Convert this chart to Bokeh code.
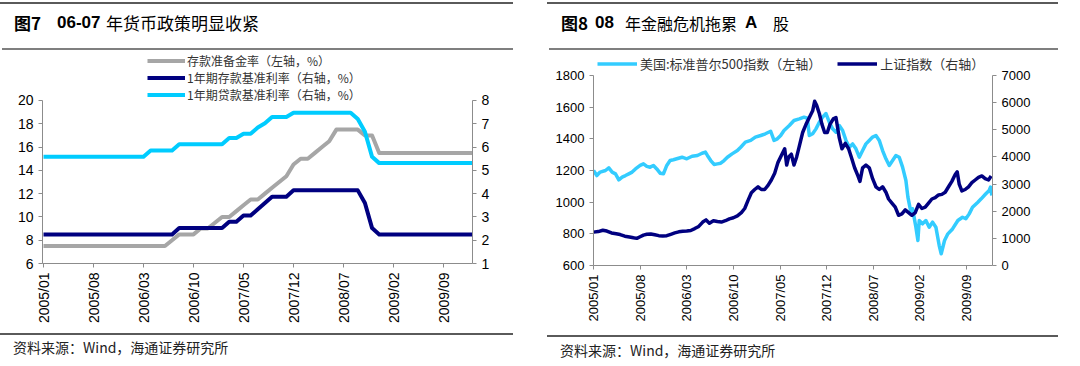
import numpy as np
from bokeh.plotting import figure
from bokeh.layouts import row, column
from bokeh.models import Range1d, LinearAxis, FixedTicker, Legend, LegendItem, Div
from bokeh.embed import file_html
from bokeh.resources import INLINE

# ---------------- shared x-axis ticks (months since 2005/01) ----------------
tick_pos = [0, 7, 14, 21, 28, 35, 42, 49, 56]
tick_labels = ["2005/01", "2005/08", "2006/03", "2006/10", "2007/05",
               "2007/12", "2008/07", "2009/02", "2009/09"]

# ---------------- Figure 7 data: monthly, 2005/01 .. 2010/01 ----------------
months7 = list(range(61))
rrr = [7.5, 7.5, 7.5, 7.5, 7.5, 7.5, 7.5, 7.5, 7.5, 7.5, 7.5, 7.5,
       7.5, 7.5, 7.5, 7.5, 7.5, 7.5, 8.0, 8.5, 8.5, 8.5, 9.0, 9.0,
       9.5, 10.0, 10.0, 10.5, 11.0, 11.5, 11.5, 12.0, 12.5, 13.0, 13.5, 14.5,
       15.0, 15.0, 15.5, 16.0, 16.5, 17.5, 17.5, 17.5, 17.5, 17.0, 17.0, 15.5,
       15.5, 15.5, 15.5, 15.5, 15.5, 15.5, 15.5, 15.5, 15.5, 15.5, 15.5, 15.5,
       15.5]
deposit = [2.25, 2.25, 2.25, 2.25, 2.25, 2.25, 2.25, 2.25, 2.25, 2.25, 2.25, 2.25,
           2.25, 2.25, 2.25, 2.25, 2.25, 2.25, 2.25, 2.52, 2.52, 2.52, 2.52, 2.52,
           2.52, 2.52, 2.79, 2.79, 3.06, 3.06, 3.33, 3.60, 3.87, 3.87, 3.87, 4.14,
           4.14, 4.14, 4.14, 4.14, 4.14, 4.14, 4.14, 4.14, 4.14, 3.60, 2.52, 2.25,
           2.25, 2.25, 2.25, 2.25, 2.25, 2.25, 2.25, 2.25, 2.25, 2.25, 2.25, 2.25,
           2.25]
loan = [5.58, 5.58, 5.58, 5.58, 5.58, 5.58, 5.58, 5.58, 5.58, 5.58, 5.58, 5.58,
        5.58, 5.58, 5.58, 5.85, 5.85, 5.85, 5.85, 6.12, 6.12, 6.12, 6.12, 6.12,
        6.12, 6.12, 6.39, 6.39, 6.57, 6.57, 6.84, 7.02, 7.29, 7.29, 7.29, 7.47,
        7.47, 7.47, 7.47, 7.47, 7.47, 7.47, 7.47, 7.47, 7.20, 6.66, 5.58, 5.31,
        5.31, 5.31, 5.31, 5.31, 5.31, 5.31, 5.31, 5.31, 5.31, 5.31, 5.31, 5.31,
        5.31]
names7 = ["存款准备金率（左轴，%）", "1年期存款基准利率（右轴，%）", "1年期贷款基准利率（右轴，%）"]

# ---------------- Figure 8 data ----------------
sp_month = [0.0, 0.5, 1.0, 1.8, 2.3, 2.8, 3.3, 3.8, 4.3, 4.8, 5.3, 5.8, 6.3, 7.0, 7.5,
            8.0, 8.5, 9.0, 9.5, 10.0, 10.5, 11.0, 11.5, 12.0, 12.5, 13.3, 14.0, 14.8,
            15.6, 16.3, 16.8, 17.1, 17.6, 18.1, 18.6, 19.1, 19.6, 20.1, 20.8, 21.6,
            22.1, 22.8, 23.6, 24.3, 25.1, 25.8, 26.6, 27.1, 27.6, 28.1, 28.6, 29.4,
            30.1, 30.9, 31.6, 32.1, 32.4, 32.9, 33.4, 33.9, 34.4, 34.9, 35.4, 35.9,
            36.4, 36.9, 37.4, 37.9, 38.4, 38.9, 39.4, 39.9, 40.4, 40.9, 41.4, 41.9,
            42.4, 42.9, 43.4, 43.9, 44.4, 44.9, 45.4, 45.9, 46.4, 46.9, 47.2, 47.7,
            47.9, 48.4, 48.7, 48.9, 49.4, 49.9, 50.4, 50.9, 51.4, 51.9, 52.2, 52.7,
            53.2, 53.9, 54.7, 55.4, 55.9, 56.4, 56.9, 57.7, 58.2, 58.9, 59.4, 59.6,
            59.8]
sp_value = [1200, 1168, 1190, 1200, 1217, 1190, 1179, 1141, 1158, 1168, 1179, 1190, 1210, 1232, 1242,
            1226, 1221, 1232, 1210, 1183, 1179, 1232, 1263, 1268, 1274, 1284, 1274, 1290,
            1295, 1309, 1316, 1295, 1263, 1238, 1242, 1246, 1263, 1284, 1305, 1326,
            1347, 1379, 1390, 1411, 1421, 1432, 1448, 1390, 1400, 1421, 1453, 1484,
            1516, 1526, 1537, 1530, 1421, 1432, 1463, 1505, 1537, 1560, 1505, 1463,
            1442, 1484, 1453, 1390, 1347, 1368, 1337, 1284, 1326, 1368, 1390, 1411,
            1421, 1390, 1326, 1274, 1232, 1263, 1295, 1284, 1221, 1137, 1032, 926,
            958, 842, 758, 884, 863, 884, 842, 874, 842, 726, 674, 758,
            800, 831, 884, 905, 895, 926, 968, 1000, 1021, 1053, 1074, 1095,
            1042]
sh_month = [0.0, 0.7, 1.4, 2.0, 2.7, 3.4, 4.0, 4.7, 5.4, 6.0, 6.5, 7.0, 7.5, 8.0, 8.6,
            9.2, 9.8, 10.4, 11.0, 11.6, 12.2, 12.8, 13.4, 14.0, 14.6, 15.2, 15.8, 16.4,
            16.9, 17.4, 18.0, 18.6, 19.2, 19.8, 20.4, 21.0, 21.6, 22.2, 22.7, 23.2,
            23.7, 24.2, 24.7, 25.2, 25.7, 26.2, 26.7, 27.2, 27.7, 28.2, 28.7, 29.0,
            29.3, 29.7, 30.1, 30.5, 30.9, 31.4, 31.9, 32.4, 32.9, 33.2, 33.5, 33.9,
            34.3, 34.7, 35.1, 35.5, 36.0, 36.4, 36.9, 37.3, 37.8, 38.3, 38.7, 39.2,
            39.7, 40.0, 40.4, 40.9, 41.4, 41.9, 42.4, 42.9, 43.4, 43.9, 44.3, 44.8,
            45.3, 45.8, 46.3, 46.8, 47.3, 47.8, 48.3, 48.8, 49.3, 49.8, 50.3, 50.8,
            51.3, 51.8, 52.3, 52.8, 53.3, 53.8, 54.3, 54.6, 54.9, 55.3, 55.8, 56.3,
            56.8, 57.3, 57.8, 58.3, 58.8, 59.3, 59.7]
sh_value = [1230, 1250, 1300, 1270, 1200, 1170, 1140, 1080, 1050, 1020, 1000, 1060, 1120, 1150, 1160,
            1130, 1100, 1090, 1100, 1150, 1200, 1240, 1260, 1270, 1290, 1360, 1440, 1600,
            1680, 1560, 1650, 1620, 1600, 1650, 1720, 1760, 1830, 1950, 2100, 2400,
            2680, 2800, 2900, 2800, 2800, 2950, 3150, 3400, 3800, 4050, 4300, 3700,
            4000, 4100, 3700, 4000, 4400, 4900, 5200, 5450, 5700, 6050, 5900, 5600,
            5200, 4900, 4900, 5200, 5400, 5450, 4700, 4300, 4500, 4300, 4000, 3600,
            3300, 3100, 3600, 3700, 3600, 3200, 2900, 2800, 2900, 2700, 2450, 2300,
            2150, 1850, 1900, 2050, 1950, 1850, 1950, 2250, 2100, 2150, 2300, 2450,
            2500, 2600, 2620, 2700, 2900, 3100, 3350, 3450, 3000, 2750, 2800, 2900,
            3050, 3150, 3250, 3300, 3200, 3150, 3300]
names8 = ["美国:标准普尔500指数（左轴）", "上证指数（右轴）"]

titles7 = ["图7", "06-07", "年货币政策明显收紧"]
titles8 = ["图8", "08", "年金融危机拖累", "A", "股"]
source_text = "资料来源：Wind，海通证券研究所"

CJK = "Noto Sans CJK SC"
LAT = "Liberation Sans"
NAVY = "#000080"
W = 540


def header(parts, xs, fams, weights, sizes, rule_x0, rule_x1):
    h = ['<div style="position:relative;width:%dpx;height:50px;">' % W]
    h.append('<div style="position:absolute;left:%dpx;top:2px;width:%dpx;height:0;'
             'border-top:2px solid #5a5a5a;"></div>' % (rule_x0, rule_x1 - rule_x0))
    h.append('<div style="position:absolute;left:%dpx;top:48px;width:%dpx;height:0;'
             'border-top:2px solid #7f7f7f;"></div>' % (rule_x0 + 2, rule_x1 - rule_x0 - 2))
    for s, x, fam, wt, sz in zip(parts, xs, fams, weights, sizes):
        h.append('<span style="position:absolute;left:%dpx;top:14px;line-height:18px;'
                 'font-family:\'%s\';font-size:%dpx;font-weight:%s;color:#000;'
                 'white-space:nowrap;">%s</span>' % (x, fam, sz, wt, s))
    h.append('</div>')
    return Div(text="".join(h), width=W, height=50, margin=0)


def footer(x_text, y_text, y_rule, rule_x0, rule_x1):
    h = ['<div style="position:relative;width:%dpx;height:34px;">' % W]
    h.append('<div style="position:absolute;left:%dpx;top:%dpx;width:%dpx;height:0;'
             'border-top:2px solid #5a5a5a;"></div>' % (rule_x0, y_rule, rule_x1 - rule_x0))
    h.append('<span style="position:absolute;left:%dpx;top:%dpx;line-height:16px;'
             'font-family:\'%s\';font-size:14px;color:#222;white-space:nowrap;">%s</span>'
             % (x_text, y_text, CJK, source_text))
    h.append('</div>')
    return Div(text="".join(h), width=W, height=34, margin=0)


def style_axis(ax, size):
    ax.axis_line_color = "#8c8c8c"
    ax.major_tick_line_color = "#8c8c8c"
    ax.minor_tick_line_color = None
    ax.major_tick_out = 4
    ax.major_tick_in = 0
    ax.major_label_text_font = LAT
    ax.major_label_text_font_size = size
    ax.major_label_text_color = "#000000"
    ax.major_label_standoff = 5


def setup_x(p, size):
    ax = p.xaxis[0]
    ax.ticker = FixedTicker(ticks=tick_pos)
    ax.major_label_overrides = {k: v for k, v in zip(tick_pos, tick_labels)}
    ax.major_label_orientation = np.pi / 2
    style_axis(ax, size)


# ---------------- Figure 7 ----------------
# frame spans page y 50..263; axes drawn only over 6..20 (left) and 1..8 (right)
p1 = figure(width=W, height=280, x_range=Range1d(-0.14, 60.06), y_range=Range1d(6, 24.294),
            output_backend="svg", toolbar_location=None,
            min_border_left=42, min_border_right=68, min_border_top=0, min_border_bottom=67,
            outline_line_color=None, margin=0)
p1.xgrid.visible = False
p1.ygrid.visible = False
p1.extra_y_ranges = {"r": Range1d(1, 10.146)}
p1.add_layout(LinearAxis(y_range_name="r"), "right")
setup_x(p1, "14px")
p1.yaxis[0].ticker = FixedTicker(ticks=[6, 8, 10, 12, 14, 16, 18, 20])
p1.yaxis[0].bounds = (6, 20)
p1.yaxis[1].ticker = FixedTicker(ticks=[1, 2, 3, 4, 5, 6, 7, 8])
p1.yaxis[1].bounds = (1, 8)
for ax in p1.yaxis:
    style_axis(ax, "14px")

r_rrr = p1.line(months7, rrr, line_width=4, line_color="#a6a6a6", line_join="round")
r_dep = p1.line(months7, deposit, line_width=4, line_color=NAVY, line_join="round",
                y_range_name="r")
r_loan = p1.line(months7, loan, line_width=4, line_color="#00ccff", line_join="round",
                 y_range_name="r")

leg1 = Legend(items=[LegendItem(label=names7[0], renderers=[r_rrr]),
                     LegendItem(label=names7[1], renderers=[r_dep]),
                     LegendItem(label=names7[2], renderers=[r_loan])],
              location=(105, 160.5), orientation="vertical",
              background_fill_alpha=0, border_line_color=None, padding=0, margin=0,
              spacing=0, glyph_width=38, glyph_height=15, label_height=15,
              label_standoff=2, label_text_font=CJK, label_text_font_size="12px",
              label_text_color="#333333")
p1.add_layout(leg1)

# ---------------- Figure 8 ----------------
# frame spans page y 50..265; axes drawn only over 600..1800 (left) and 0..7000 (right)
p2 = figure(width=W, height=280, x_range=Range1d(0, 59.9), y_range=Range1d(600, 1957.9),
            output_backend="svg", toolbar_location=None,
            min_border_left=53, min_border_right=88, min_border_top=0, min_border_bottom=65,
            outline_line_color=None, margin=0)
p2.xgrid.visible = False
p2.ygrid.visible = False
p2.extra_y_ranges = {"r": Range1d(0, 7921.05)}
p2.add_layout(LinearAxis(y_range_name="r"), "right")
setup_x(p2, "13px")
p2.yaxis[0].ticker = FixedTicker(ticks=[600, 800, 1000, 1200, 1400, 1600, 1800])
p2.yaxis[0].bounds = (600, 1800)
p2.yaxis[1].ticker = FixedTicker(ticks=[0, 1000, 2000, 3000, 4000, 5000, 6000, 7000])
p2.yaxis[1].bounds = (0, 7000)
for ax in p2.yaxis:
    style_axis(ax, "13px")

r_sp = p2.line(sp_month, sp_value, line_width=3.5, line_color="#33ccff", line_join="round")
r_sh = p2.line(sh_month, sh_value, line_width=3.5, line_color=NAVY, line_join="round",
               y_range_name="r")

leg2 = Legend(items=[LegendItem(label=names8[0], renderers=[r_sp]),
                     LegendItem(label=names8[1], renderers=[r_sh])],
              location=(4, 192.5), orientation="horizontal",
              background_fill_alpha=0, border_line_color=None, padding=0, margin=0,
              spacing=16, glyph_width=40, glyph_height=17, label_height=17,
              label_standoff=3, label_text_font=CJK, label_text_font_size="13px",
              label_text_color="#333333")
p2.add_layout(leg2)

# ---------------- headers / footers ----------------
t1 = header(titles7, [14, 57, 106], [CJK, LAT, CJK], ["bold", "bold", "normal"],
            [17, 17, 17], 0, 513)
t2 = header(titles8, [21, 55, 85, 205, 233], [CJK, LAT, CJK, LAT, CJK],
            ["bold", "bold", "normal", "bold", "normal"], [17, 17, 16, 17, 16], 7, 518)
s1 = footer(13, 9, 3, 0, 513)
s2 = footer(20, 12, 5, 7, 518)

layout = row(column(t1, p1, s1, spacing=0), column(t2, p2, s2, spacing=0), spacing=0)

with open("out.html", "w") as f:
    f.write(file_html(layout, INLINE))
